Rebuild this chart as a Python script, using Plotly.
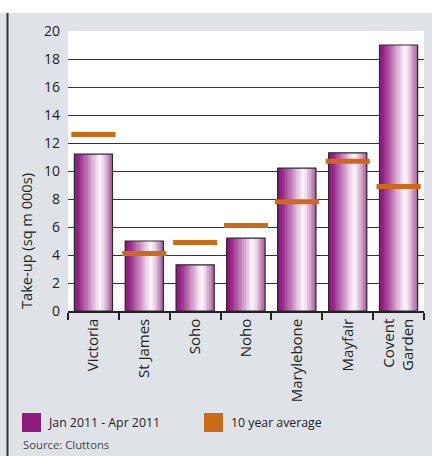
import plotly.graph_objects as go

categories = ["Victoria", "St James", "Soho", "Noho", "Marylebone", "Mayfair", "Covent<br>Garden"]
take_up = [11.2, 5.0, 3.3, 5.2, 10.2, 11.3, 19.0]
ten_year_avg = [12.6, 4.1, 4.9, 6.1, 7.8, 10.7, 8.9]
y_ticks = [0, 2, 4, 6, 8, 10, 12, 14, 16, 18, 20]

W, H = 432, 456
L, R, T, B = 68, 8, 31, 145
PURPLE = "#8e1a80"
ORANGE = "#cc6a18"
BG = "#dfe3e7"
FONT = "Open Sans"

stops = [(0.0, (138, 24, 124)), (0.12, (148, 36, 134)), (0.35, (190, 120, 180)),
         (0.55, (232, 200, 228)), (0.68, (252, 248, 252)), (0.78, (235, 212, 232)),
         (1.0, (166, 92, 156))]

def grad(t):
    for (t0, c0), (t1, c1) in zip(stops[:-1], stops[1:]):
        if t0 <= t <= t1:
            f = (t - t0) / (t1 - t0)
            c = [round(a + (b - a) * f) for a, b in zip(c0, c1)]
            return "rgb(%d,%d,%d)" % tuple(c)
    return "rgb(%d,%d,%d)" % stops[-1][1]

fig = go.Figure()
bw = 0.75
N = 24
sw = bw / N
for i in range(N):
    fig.add_trace(go.Bar(
        x=categories, y=take_up, width=sw * 1.05, offset=-bw / 2 + i * sw,
        marker=dict(color=grad((i + 0.5) / N), line=dict(width=0)),
        showlegend=False, hoverinfo="skip"))
fig.add_trace(go.Bar(
    x=categories, y=take_up, width=bw,
    marker=dict(color="rgba(0,0,0,0)", line=dict(color="#2a2a2a", width=1.2)),
    showlegend=False, name="Jan 2011 - Apr 2011"))
fig.add_trace(go.Scatter(
    x=categories, y=ten_year_avg, mode="markers",
    marker=dict(symbol="line-ew", size=31.5, line=dict(color=ORANGE, width=5)),
    showlegend=False, name="10 year average"))

def px_x(x):
    return (x - L) / (W - L - R)

def px_y(y):
    return (H - B - y) / (H - T - B)

shapes = [
    dict(type="rect", xref="paper", yref="paper", x0=px_x(-5), x1=px_x(W + 5),
         y0=px_y(13), y1=px_y(-5), fillcolor="white", line=dict(width=0), layer="below"),
    dict(type="line", xref="paper", yref="paper", x0=px_x(7.5), x1=px_x(7.5),
         y0=px_y(13), y1=px_y(H + 5), line=dict(color="#333333", width=2)),
    dict(type="rect", xref="paper", yref="paper", x0=px_x(22), x1=px_x(41),
         y0=px_y(432), y1=px_y(413), fillcolor=PURPLE, line=dict(width=0)),
    dict(type="rect", xref="paper", yref="paper", x0=px_x(204), x1=px_x(223),
         y0=px_y(432), y1=px_y(413), fillcolor=ORANGE, line=dict(width=0)),
]
annotations = [
    dict(text="Jan 2011 - Apr 2011", xref="paper", yref="paper", x=px_x(46), y=px_y(422.5),
         xanchor="left", yanchor="middle", showarrow=False, font=dict(size=12.3, color="#222")),
    dict(text="10 year average", xref="paper", yref="paper", x=px_x(229), y=px_y(422.5),
         xanchor="left", yanchor="middle", showarrow=False, font=dict(size=12.3, color="#222")),
    dict(text="Source: Cluttons", xref="paper", yref="paper", x=px_x(21), y=px_y(444),
         xanchor="left", yanchor="middle", showarrow=False, font=dict(size=11.3, color="#444")),
    dict(text="Take-up (sq m 000s)", xref="paper", yref="paper", x=px_x(26), y=px_y(241),
         xanchor="center", yanchor="middle", textangle=-90, showarrow=False,
         font=dict(size=14.6, color="#222")),
]

fig.update_layout(
    width=W, height=H, margin=dict(l=L, r=R, t=T, b=B),
    paper_bgcolor=BG, plot_bgcolor="white", barmode="overlay",
    font=dict(family=FONT, color="#222"),
    shapes=shapes, annotations=annotations,
    xaxis=dict(type="category", showline=True, linecolor="#222", linewidth=1.5,
               ticks="outside", tickson="boundaries", ticklen=7, tickcolor="#222", tickwidth=1.5,
               tickangle=-90, tickfont=dict(size=15, color="#222"), showgrid=False,
               range=[-0.5, 6.5]),
    yaxis=dict(range=[0, 20], tickvals=y_ticks, showgrid=True, gridcolor="#333333", gridwidth=1,
               zeroline=False, showline=False, ticks="", ticklabelstandoff=7,
               tickfont=dict(size=14, color="#222")),
)

fig.write_html("out.html", config={"displayModeBar": False},
               post_script="document.body.style.margin='0';")
